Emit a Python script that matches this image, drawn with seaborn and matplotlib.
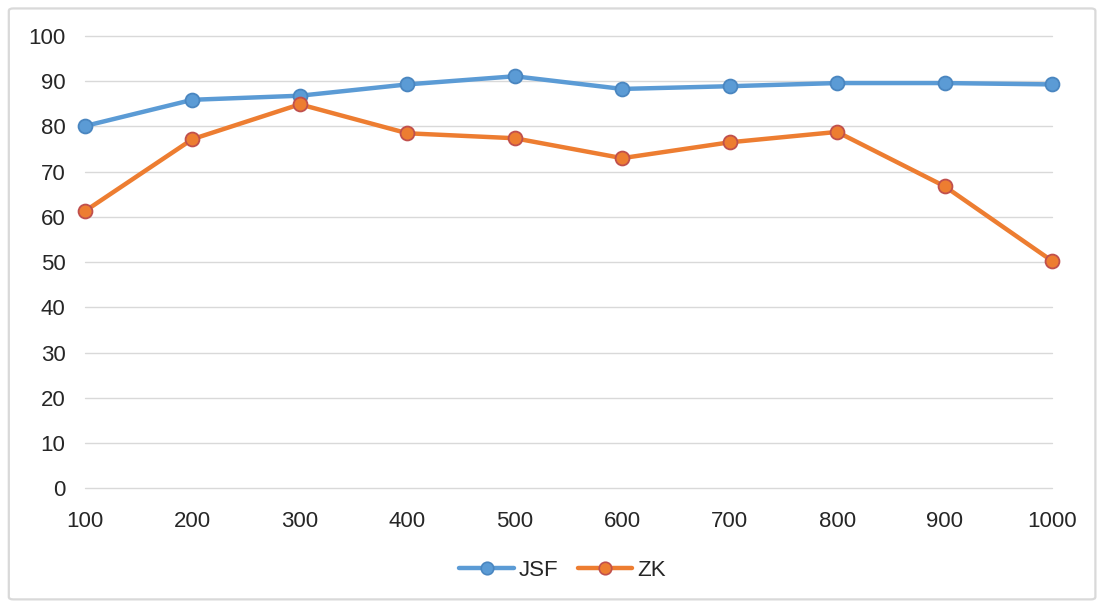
import matplotlib
matplotlib.use("Agg")
import matplotlib.pyplot as plt
from matplotlib.patches import FancyBboxPatch
import seaborn as sns
import pandas as pd

x_values = [100, 200, 300, 400, 500, 600, 700, 800, 900, 1000]
jsf = [80.1, 85.9, 86.8, 89.3, 91.1, 88.3, 88.9, 89.6, 89.6, 89.3]
zk = [61.3, 77.2, 84.9, 78.5, 77.4, 73.0, 76.5, 78.8, 66.8, 50.3]
series_names = ["JSF", "ZK"]
y_ticks = [0, 10, 20, 30, 40, 50, 60, 70, 80, 90, 100]

df = pd.DataFrame({
    "x": x_values * 2,
    "value": jsf + zk,
    "series": [series_names[0]] * len(x_values) + [series_names[1]] * len(x_values),
})

sns.set_theme(style="white")
plt.rcParams["font.family"] = ["Liberation Sans", "DejaVu Sans"]

line_colors = {"JSF": "#5B9BD5", "ZK": "#ED7D31"}
edge_colors = {"JSF": "#4A86C0", "ZK": "#C0504D"}
label_size = 16

fig = plt.figure(figsize=(11.02, 6.03), dpi=100)
ax = fig.add_axes([0.0771, 0.19, 0.8775, 0.7503])

sns.lineplot(data=df, x="x", y="value", hue="series", palette=line_colors,
             linewidth=3.2, marker="o", markersize=10, ax=ax, legend=False)

# per-series marker edges; keep end markers unclipped
for line, name in zip(ax.get_lines(), series_names):
    line.set_markeredgecolor(edge_colors[name])
    line.set_markeredgewidth(1.3)
    line.set_solid_capstyle("round")
    line.set_clip_on(False)
    line.set_zorder(3)

ax.set_xlim(100, 1000)
ax.set_ylim(0, 100)
ax.set_xticks(x_values)
ax.set_yticks(y_ticks)
ax.set_xlabel("")
ax.set_ylabel("")
ax.grid(axis="y", color="#D9D9D9", linewidth=1.0)
for gl in ax.yaxis.get_gridlines():
    gl.set_clip_on(False)
ax.set_axisbelow(True)
for s in ax.spines.values():
    s.set_visible(False)
ax.tick_params(axis="y", length=0, pad=14, labelsize=label_size, labelcolor="#262626")
ax.tick_params(axis="x", length=0, pad=16, labelsize=label_size, labelcolor="#262626")

handles = [plt.Line2D([], [], color=line_colors[n], linewidth=3.2, marker="o",
                      markersize=9, markeredgecolor=edge_colors[n], markeredgewidth=1.2)
           for n in series_names]
fig.legend(handles, series_names, loc="center", bbox_to_anchor=(0.5104, 0.0547),
           ncol=2, frameon=False, fontsize=label_size, handlelength=2.45,
           columnspacing=0.9, handletextpad=0.2)

border = FancyBboxPatch((0.008, 0.006), 0.986, 0.98, boxstyle="round,pad=0,rounding_size=0.004",
                        transform=fig.transFigure, facecolor="none",
                        edgecolor="#D9D9D9", linewidth=1.6)
fig.patches.append(border)

fig.savefig("out.png", dpi=100)
